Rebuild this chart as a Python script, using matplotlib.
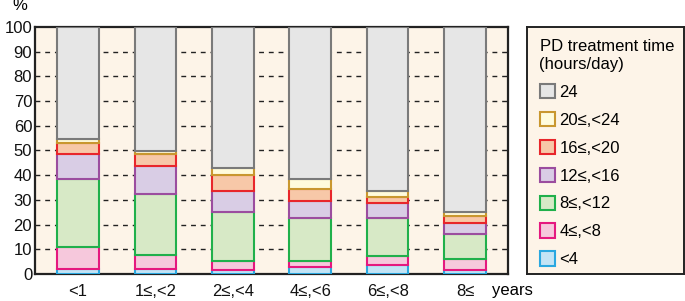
import numpy as np
import matplotlib.pyplot as plt
from matplotlib.patches import Patch

plt.rcParams['font.family'] = ['Liberation Sans', 'DejaVu Sans']

categories = ["<1", "1≤,<2", "2≤,<4", "4≤,<6", "6≤,<8", "8≤"]
series_names = ["<4", "4≤,<8", "8≤,<12", "12≤,<16", "16≤,<20", "20≤,<24", "24"]

lt4 = [2.0, 1.9, 1.6, 2.7, 3.5, 1.6]
h4_8 = [9.0, 5.9, 3.8, 2.7, 3.6, 4.6]
h8_12 = [27.5, 24.5, 19.9, 17.1, 15.4, 10.0]
h12_16 = [10.0, 11.4, 8.3, 6.9, 6.1, 4.3]
h16_20 = [4.7, 5.0, 6.3, 5.2, 2.7, 3.1]
h20_24 = [1.6, 0.9, 3.1, 3.7, 2.3, 1.6]
h24 = [45.2, 50.4, 57.0, 61.7, 66.4, 74.8]

values = [lt4, h4_8, h8_12, h12_16, h16_20, h20_24, h24]
faces = ["#c3e4f5", "#f6c8dc", "#d7e9c6", "#d9cde5", "#f7c8a8", "#fffbdc", "#e6e6e6"]
edges = ["#2aa8e0", "#e5187f", "#20b04b", "#9b4d9f", "#e8262b", "#c9972f", "#7a7a7a"]
bg = "#fdf4e8"
fs = 12

fig = plt.figure(figsize=(6.85, 3.01), dpi=100)
ax = fig.add_axes([0.0511, 0.0897, 0.6905, 0.8206])
ax.set_facecolor(bg)

x = np.arange(len(categories))
bottom = np.zeros(len(categories))
for name, vals, fc, ec in zip(series_names, values, faces, edges):
    ax.bar(x, vals, bottom=bottom, width=0.54, color=fc, edgecolor=ec,
           linewidth=1.5, zorder=3, label=name)
    bottom += np.array(vals)

for yv in range(10, 100, 10):
    ax.axhline(yv, color="#222222", lw=1.0, ls=(0, (3.5, 3.5)), zorder=1)

ax.set_xlim(-0.556, 5.556)
ax.set_ylim(0, 100)
ax.set_yticks(range(0, 101, 10))
ax.set_xticks(x)
ax.set_xticklabels(categories)
ax.tick_params(axis="both", length=0, labelsize=fs, colors="#111111")
ax.tick_params(axis="y", pad=2)
ax.tick_params(axis="x", pad=7)
for s in ax.spines.values():
    s.set_linewidth(1.6)
    s.set_color("#222222")

fig.text(20 / 685, 1 - 6 / 301, "%", fontsize=fs, ha="center", va="center")
fig.text(512 / 685, 1 - 291 / 301, "years", fontsize=fs, ha="center", va="center")

# legend panel
lax = fig.add_axes([527 / 685, 0.0897, 157 / 685, 0.8206])
lax.set_facecolor(bg)
lax.set_xticks([])
lax.set_yticks([])
for s in lax.spines.values():
    s.set_linewidth(1.4)
    s.set_color("#222222")

handles = [Patch(facecolor=fc, edgecolor=ec, linewidth=1.5)
           for fc, ec in zip(faces, edges)][::-1]
leg = lax.legend(handles, series_names[::-1], loc="upper left",
                 title="PD treatment time\n(hours/day)", title_fontsize=fs,
                 fontsize=fs, frameon=False, alignment="left",
                 handlelength=0.95, handleheight=0.95, handletextpad=0.25,
                 labelspacing=0.72, borderaxespad=0.35)

fig.savefig("out.png", dpi=100)
